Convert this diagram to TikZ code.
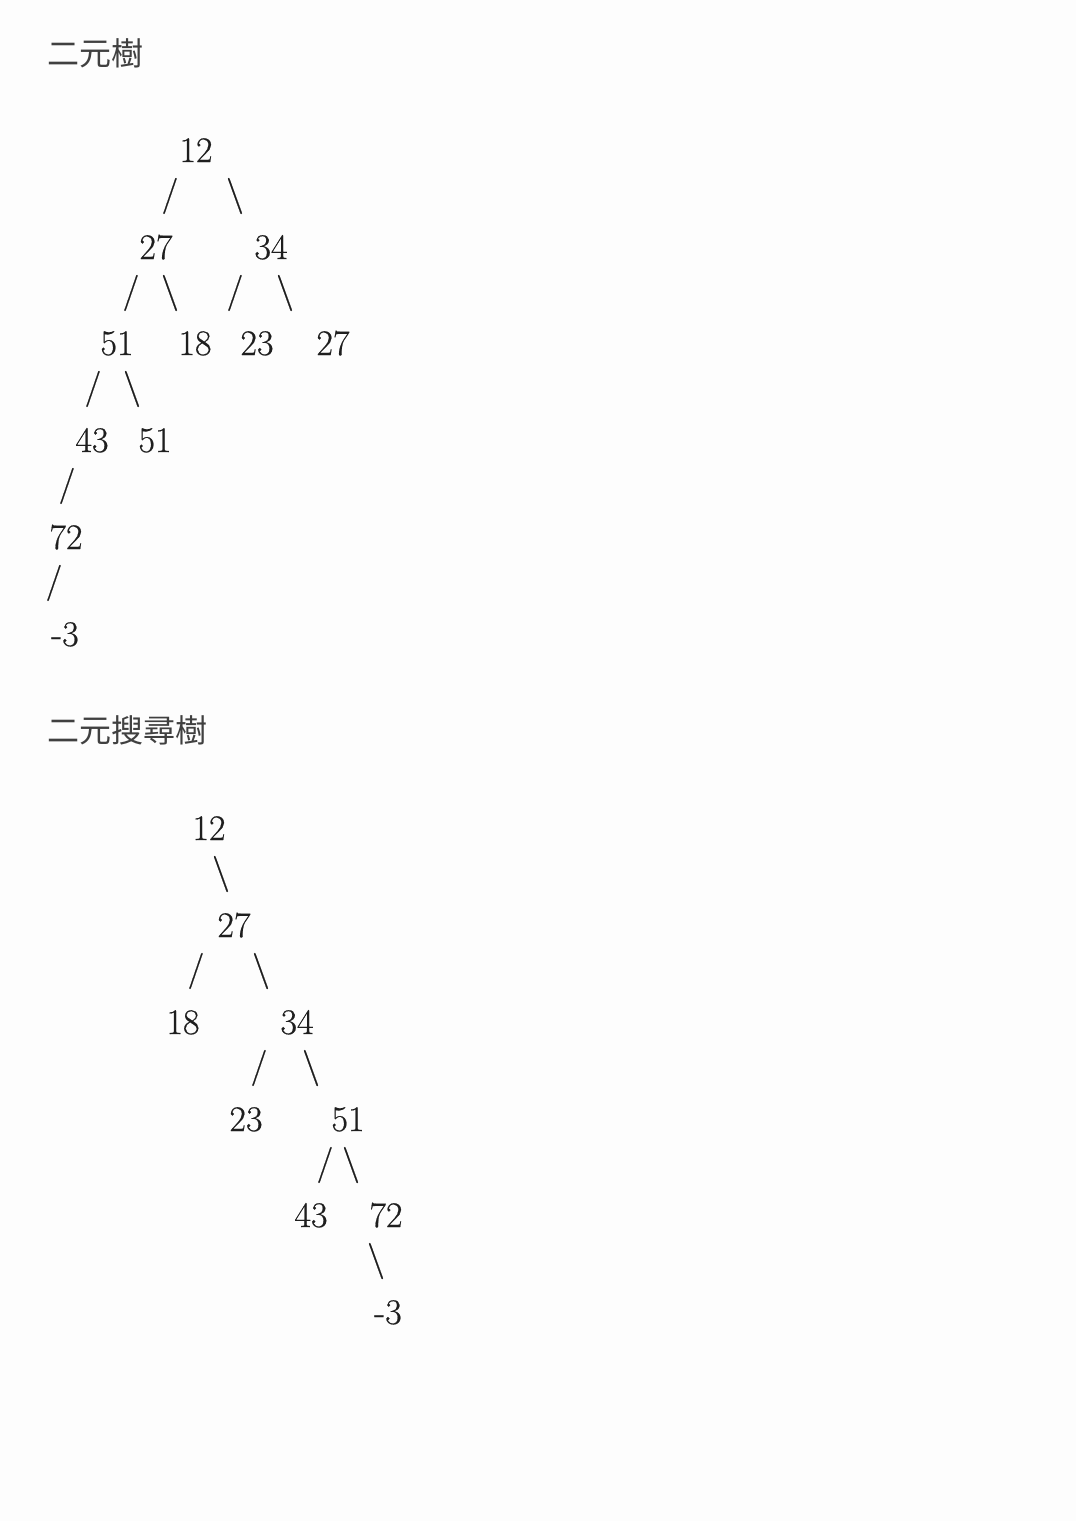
\documentclass[tikz,border=0pt]{standalone}
\usepackage{fontspec}
\newfontfamily\cjk{Noto Sans CJK TC}
\newfontfamily\numfont{Latin Modern Roman}[FakeBold=0.5]
\usetikzlibrary{positioning}
\definecolor{ink}{HTML}{1E1E1E}
\definecolor{paper}{HTML}{FDFDFD}
\newcommand{\bs}{\textbackslash}
\tikzset{%
	num/.style={anchor=base, inner sep=0pt, text=ink, font=\numfont\fontsize{36}{42}\selectfont},
	br/.style={num},
	heading/.style={anchor=west, inner sep=0pt, text=ink!85, font=\cjk\fontsize{32}{38}\selectfont}
}
\begin{document}
\begin{tikzpicture}[x=1pt, y=-1pt]
	\fill[paper] (0,0) rectangle (1076,1521);
	\useasboundingbox (0,0) rectangle (1076,1521);

	% binary tree
	\node[heading] (title1) at (47,53) {二元樹};
	\node[num] (a12) at (196,162) {12};
	\node[br] (s1) at (170,205) {/};
	\node[br] (s2) at (235,205) {\bs};
	\node[num] (a27) at (156,259) {27};
	\node[num] (a34) at (271,259) {34};
	\node[br] (s3) at (131,302) {/};
	\node[br] (s4) at (170,302) {\bs};
	\node[br] (s5) at (235,302) {/};
	\node[br] (s6) at (285,302) {\bs};
	\node[num] (a51) at (117,355) {51};
	\node[num] (a18) at (195,355) {18};
	\node[num] (a23) at (257,355) {23};
	\node[num] (a27b) at (333,355) {27};
	\node[br] (s7) at (93,398) {/};
	\node[br] (s8) at (132,398) {\bs};
	\node[num] (a43) at (92,452) {43};
	\node[num] (a51b) at (155,452) {51};
	\node[br] (s9) at (67,495) {/};
	\node[num] (a72) at (66,549) {72};
	\node[br] (s10) at (54,592) {/};
	\node[num] (am3) at (65,646) {-3};

	% binary search tree
	\node[heading] (title2) at (47,730) {二元搜尋樹};
	\node[num] (b12) at (209,840) {12};
	\node[br] (t1) at (221,883) {\bs};
	\node[num] (b27) at (234,937) {27};
	\node[br] (t2) at (196,980) {/};
	\node[br] (t3) at (261,980) {\bs};
	\node[num] (b18) at (183,1034) {18};
	\node[num] (b34) at (297,1034) {34};
	\node[br] (t4) at (259,1077) {/};
	\node[br] (t5) at (311,1077) {\bs};
	\node[num] (b23) at (246,1131) {23};
	\node[num] (b51) at (348,1131) {51};
	\node[br] (t6) at (325,1174) {/};
	\node[br] (t7) at (351,1174) {\bs};
	\node[num] (b43) at (311,1227) {43};
	\node[num] (b72) at (386,1227) {72};
	\node[br] (t8) at (376,1270) {\bs};
	\node[num] (bm3) at (388,1324) {-3};
\end{tikzpicture}
\end{document}
